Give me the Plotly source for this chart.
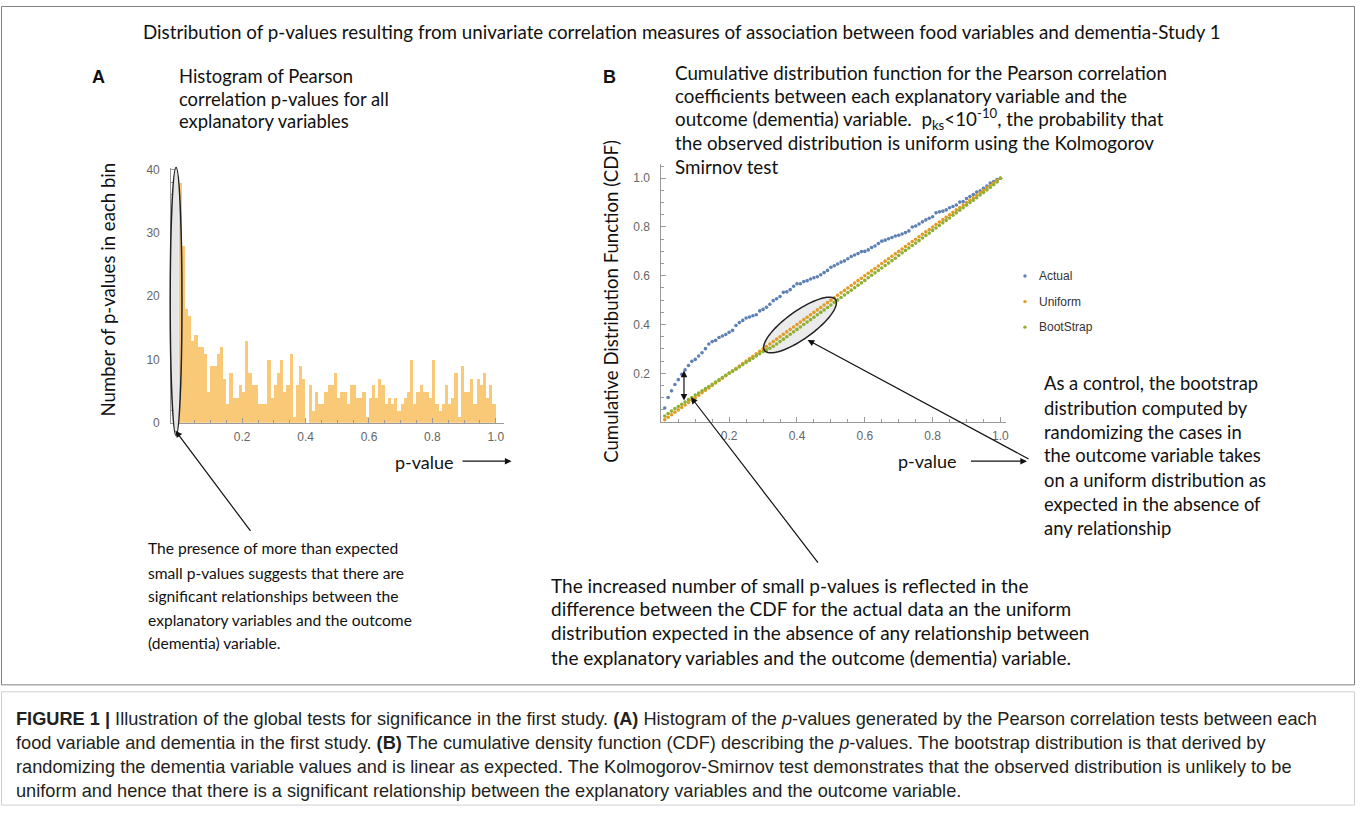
import math
import plotly.graph_objects as go

W, H = 1360, 816

# ---------------- data ----------------
p_grid = [
    0.01, 0.02, 0.03, 0.04, 0.05, 0.06, 0.07, 0.08, 0.09, 0.10,
    0.11, 0.12, 0.13, 0.14, 0.15, 0.16, 0.17, 0.18, 0.19, 0.20,
    0.21, 0.22, 0.23, 0.24, 0.25, 0.26, 0.27, 0.28, 0.29, 0.30,
    0.31, 0.32, 0.33, 0.34, 0.35, 0.36, 0.37, 0.38, 0.39, 0.40,
    0.41, 0.42, 0.43, 0.44, 0.45, 0.46, 0.47, 0.48, 0.49, 0.50,
    0.51, 0.52, 0.53, 0.54, 0.55, 0.56, 0.57, 0.58, 0.59, 0.60,
    0.61, 0.62, 0.63, 0.64, 0.65, 0.66, 0.67, 0.68, 0.69, 0.70,
    0.71, 0.72, 0.73, 0.74, 0.75, 0.76, 0.77, 0.78, 0.79, 0.80,
    0.81, 0.82, 0.83, 0.84, 0.85, 0.86, 0.87, 0.88, 0.89, 0.90,
    0.91, 0.92, 0.93, 0.94, 0.95, 0.96, 0.97, 0.98, 0.99, 1.00,
]

hist_counts = [
    38, 28, 18, 17, 13, 14, 12, 12, 11, 5,
    9, 9, 11, 12, 7, 3, 8, 4, 4, 6,
    5, 13, 8, 6, 6, 3, 3, 3, 10, 4,
    6, 8, 10, 5, 6, 11, 1, 6, 9, 7,
    0, 6, 2, 5, 3, 3, 5, 6, 6, 8,
    4, 5, 5, 3, 6, 6, 4, 4, 5, 1,
    4, 6, 4, 7, 6, 3, 4, 3, 4, 2,
    3, 4, 5, 10, 3, 5, 6, 5, 5, 4,
    10, 3, 2, 3, 6, 3, 4, 8, 1, 9,
    5, 5, 7, 3, 7, 6, 8, 4, 6, 3,
]

actual_cdf = [
    0.058, 0.101, 0.128, 0.154, 0.174, 0.196, 0.214, 0.232, 0.249, 0.257,
    0.271, 0.284, 0.301, 0.320, 0.330, 0.335, 0.347, 0.353, 0.359, 0.368,
    0.376, 0.396, 0.408, 0.417, 0.427, 0.431, 0.436, 0.440, 0.456, 0.462,
    0.471, 0.483, 0.498, 0.506, 0.515, 0.532, 0.534, 0.543, 0.557, 0.567,
    0.567, 0.576, 0.580, 0.587, 0.592, 0.596, 0.604, 0.613, 0.622, 0.635,
    0.641, 0.648, 0.656, 0.661, 0.670, 0.679, 0.685, 0.691, 0.699, 0.700,
    0.706, 0.716, 0.722, 0.732, 0.742, 0.746, 0.752, 0.757, 0.763, 0.766,
    0.771, 0.777, 0.784, 0.800, 0.804, 0.812, 0.821, 0.829, 0.836, 0.842,
    0.858, 0.862, 0.865, 0.870, 0.879, 0.884, 0.890, 0.902, 0.904, 0.917,
    0.925, 0.933, 0.943, 0.948, 0.959, 0.968, 0.980, 0.986, 0.995, 1.000,
]

uniform_cdf = list(p_grid)

bootstrap_cdf = [
    0.025, 0.035, 0.045, 0.055, 0.064, 0.073, 0.082, 0.092, 0.101, 0.111,
    0.119, 0.128, 0.137, 0.146, 0.155, 0.164, 0.173, 0.183, 0.192, 0.201,
    0.208, 0.217, 0.226, 0.235, 0.244, 0.253, 0.262, 0.271, 0.280, 0.289,
    0.296, 0.303, 0.311, 0.320, 0.330, 0.340, 0.350, 0.360, 0.370, 0.380,
    0.390, 0.400, 0.410, 0.420, 0.430, 0.440, 0.450, 0.460, 0.470, 0.480,
    0.491, 0.501, 0.511, 0.521, 0.531, 0.541, 0.551, 0.561, 0.571, 0.581,
    0.592, 0.602, 0.612, 0.622, 0.632, 0.642, 0.652, 0.662, 0.672, 0.683,
    0.694, 0.704, 0.714, 0.724, 0.734, 0.744, 0.755, 0.765, 0.775, 0.786,
    0.796, 0.806, 0.817, 0.827, 0.837, 0.848, 0.858, 0.869, 0.879, 0.889,
    0.900, 0.910, 0.920, 0.931, 0.941, 0.952, 0.962, 0.973, 0.985, 1.000,
]

series_names = ["Actual", "Uniform", "BootStrap"]
series_colors = ["#5E81B5", "#E19C24", "#8FB032"]

hist_ticks = [0, 10, 20, 30, 40]
p_ticks = [0.2, 0.4, 0.6, 0.8, 1.0]
p_tick_text = ["0.2", "0.4", "0.6", "0.8", "1.0"]

BIN_WIDTH = 0.01

# ---------------- geometry helpers ----------------
def px(x):
    return x / W


def py(y):
    return 1 - y / H


HX_DOM = [px(171.7), px(505.2)]
HY_DOM = [py(424.0), py(165.0)]
HX_RANGE = [-0.024, 1.025]
HY_RANGE = [0, 40.3]

CX_DOM = [px(663.3), px(1008.5)]
CY_DOM = [py(423.3), py(161.7)]
CX_RANGE = [0, 1.015]
CY_RANGE = [0, 1.057]

AXIS_COLOR = "#9a9a9a"
TICK_FONT = dict(family="Liberation Sans, Arial, sans-serif", size=12, color="#666666")
BODY = "Lato, Carlito, Calibri, sans-serif"

fig = go.Figure()

# histogram: bar centred in its bin (right edge minus half a bin)
bin_centres = [round(p - BIN_WIDTH / 2, 4) for p in p_grid]
fig.add_trace(go.Bar(
    x=bin_centres, y=hist_counts, width=BIN_WIDTH,
    marker=dict(color="#F9C977", line=dict(width=0)),
    xaxis="x", yaxis="y", showlegend=False, hoverinfo="skip",
))

cdf_series = [actual_cdf, uniform_cdf, bootstrap_cdf]
for name, col, vals in zip(series_names, series_colors, cdf_series):
    fig.add_trace(go.Scatter(
        x=p_grid, y=vals, mode="markers", name=name,
        marker=dict(color=col, size=3.6),
        xaxis="x2", yaxis="y2", showlegend=False,
    ))


def axis_common():
    return dict(
        showgrid=False, zeroline=False, showline=True, linecolor=AXIS_COLOR,
        linewidth=1, ticks="inside", ticklen=5, tickcolor=AXIS_COLOR,
        tickfont=TICK_FONT, fixedrange=True,
    )


fig.update_layout(
    width=W, height=H, margin=dict(l=0, r=0, t=0, b=0),
    paper_bgcolor="white", plot_bgcolor="rgba(0,0,0,0)",
    bargap=0, barmode="overlay",
    xaxis=dict(domain=HX_DOM, range=HX_RANGE, anchor="y", tickmode="array",
               tickvals=p_ticks, ticktext=p_tick_text, ticklabelstandoff=3,
               minor=dict(tickmode="linear", tick0=0, dtick=0.05, ticks="inside",
                          ticklen=3, tickcolor=AXIS_COLOR),
               **axis_common()),
    yaxis=dict(domain=HY_DOM, range=HY_RANGE, anchor="x", tickmode="array",
               tickvals=hist_ticks, ticktext=[str(t) for t in hist_ticks],
               ticklabelstandoff=8,
               minor=dict(tickmode="linear", tick0=0, dtick=2, ticks="inside",
                          ticklen=3, tickcolor=AXIS_COLOR),
               **axis_common()),
    xaxis2=dict(domain=CX_DOM, range=CX_RANGE, anchor="y2", tickmode="array",
                tickvals=p_ticks, ticktext=p_tick_text, ticklabelstandoff=3,
                minor=dict(tickmode="linear", tick0=0, dtick=0.05, ticks="inside",
                           ticklen=3, tickcolor=AXIS_COLOR),
                **axis_common()),
    yaxis2=dict(domain=CY_DOM, range=CY_RANGE, anchor="x2", tickmode="array",
                tickvals=p_ticks, ticktext=p_tick_text, ticklabelstandoff=8,
                minor=dict(tickmode="linear", tick0=0, dtick=0.05, ticks="inside",
                           ticklen=3, tickcolor=AXIS_COLOR),
                **axis_common()),
)

annotations = []


def text(x, y, s, size=17, family=BODY, anchor="left", color="#111111", angle=0):
    annotations.append(dict(
        x=px(x), y=py(y), xref="paper", yref="paper", text=s, showarrow=False,
        xanchor=anchor, yanchor="middle", textangle=angle,
        font=dict(family=family, size=size, color=color),
    ))


def arrow(hx, hy, tx, ty, both=False, width=1.2):
    annotations.append(dict(
        x=px(hx), y=py(hy), xref="paper", yref="paper", text=" ",
        font=dict(size=2),
        showarrow=True, ax=tx - hx, ay=ty - hy, axref="pixel", ayref="pixel",
        arrowhead=2, arrowsize=1.1, arrowwidth=width, arrowcolor="#111111",
        arrowside="end+start" if both else "end", standoff=0, startstandoff=0,
    ))


# title
text(684, 27, "Distribution of p-values resulting from univariate correlation measures of association between food variables and dementia-Study 1",
     size=18.8, anchor="center")

# panel letters
text(90, 73, "<b>A</b>", size=18, family="Liberation Sans, Arial, sans-serif")
text(603, 73, "<b>B</b>", size=18, family="Liberation Sans, Arial, sans-serif")

# panel A heading
for yy, s in zip([72, 95, 118], ["Histogram of Pearson", "correlation p-values for all", "explanatory variables"]):
    text(178, yy, s, size=18.4)

# panel B heading
b_lines = [
    "Cumulative distribution function for the Pearson correlation",
    "coefficients between each explanatory variable and the",
    "outcome (dementia) variable.  p<sub>ks</sub>&lt;10<sup>-10</sup>, the probability that",
    "the observed distribution is uniform using the Kolmogorov",
    "Smirnov test",
]
for yy, s in zip([68, 92, 116, 140, 164], b_lines):
    text(675, yy, s, size=18.8)

# axis titles
text(108, 289, "Number of p-values in each bin", size=18.6, anchor="center", angle=-90)
text(612, 301, "Cumulative Distribution Function (CDF)", size=18.6, anchor="center", angle=-90)
text(426, 464, "p-value", size=18, anchor="center")
text(930, 463, "p-value", size=18, anchor="center")
arrow(513, 463, 462, 463)
arrow(1030, 463, 972, 463)

# legend
for yy, name, col in zip([275, 301, 327], series_names, series_colors):
    text(1040, yy, name, size=12, family="Liberation Sans, Arial, sans-serif", color="#333333")

# explanatory texts
left_lines = [
    "The presence of more than expected",
    "small p-values suggests that there are",
    "significant relationships between the",
    "explanatory variables and the outcome",
    "(dementia) variable.",
]
for yy, s in zip([551, 576, 600, 624, 648], left_lines):
    text(146, yy, s, size=15.6)

center_lines = [
    "The increased number of small p-values is reflected in the",
    "difference between the CDF for the actual data an the uniform",
    "distribution expected in the absence of any relationship between",
    "the explanatory variables and the outcome (dementia) variable.",
]
for yy, s in zip([589, 613, 637, 662], center_lines):
    text(551, yy, s, size=19)

right_lines = [
    "As a control, the bootstrap",
    "distribution computed by",
    "randomizing the cases in",
    "the outcome variable takes",
    "on a uniform distribution as",
    "expected in the absence of",
    "any relationship",
]
for yy, s in zip([384, 409, 433, 457, 482, 506, 531], right_lines):
    text(1045, yy, s, size=18.4)

# arrows
arrow(176, 432, 253, 535)
arrow(686, 371, 686, 404, both=True)
arrow(693, 398, 822, 566)
arrow(810, 340, 1033, 460)

# caption
cap_font = "Liberation Sans, Arial, sans-serif"
cap_lines = [
    "<b>FIGURE 1 |</b> Illustration of the global tests for significance in the first study. <b>(A)</b> Histogram of the <i>p</i>-values generated by the Pearson correlation tests between each",
    "food variable and dementia in the first study. <b>(B)</b> The cumulative density function (CDF) describing the <i>p</i>-values. The bootstrap distribution is that derived by",
    "randomizing the dementia variable values and is linear as expected. The Kolmogorov-Smirnov test demonstrates that the observed distribution is unlikely to be",
    "uniform and hence that there is a significant relationship between the explanatory variables and the outcome variable.",
]
for yy, s in zip([725, 749, 773, 798], cap_lines):
    text(14, yy, s, size=18.2, family=cap_font, color="#231f20")

fig.update_layout(annotations=annotations)

# ---------------- shapes ----------------
shapes = []
# frames
shapes.append(dict(type="rect", xref="paper", yref="paper", x0=px(1.5), x1=px(1358.5),
                   y0=py(690), y1=py(1.5), line=dict(color="#808080", width=1), fillcolor="rgba(0,0,0,0)"))
shapes.append(dict(type="rect", xref="paper", yref="paper", x0=px(1.5), x1=px(1358.5),
                   y0=py(812), y1=py(697), line=dict(color="#d0d0d0", width=1), fillcolor="rgba(0,0,0,0)"))

# histogram ellipse: gray fill only on the part left of the first bar, outline on top
ex_c, ey_c, ex_r, ey_r = 176.6, 301.0, 5.9, 136.0
x_cut = 179.3
phi0 = math.acos((x_cut - ex_c) / ex_r)
half = []
n = 60
for i in range(n + 1):
    phi = phi0 + (2 * math.pi - 2 * phi0) * i / n
    half.append((ex_c + ex_r * math.cos(phi), ey_c - ey_r * math.sin(phi)))
hpath = "M " + " L ".join(f"{px(x):.6f},{py(y):.6f}" for x, y in half) + " Z"
shapes.append(dict(type="path", xref="paper", yref="paper", layer="above", path=hpath,
                   fillcolor="#e6e6e6", line=dict(width=0)))
shapes.append(dict(type="circle", xref="paper", yref="paper", layer="above",
                   x0=px(ex_c - ex_r), x1=px(ex_c + ex_r), y0=py(ey_c + ey_r), y1=py(ey_c - ey_r),
                   fillcolor="rgba(0,0,0,0)", line=dict(color="#222222", width=1.5)))

# CDF ellipse (rotated along the diagonal), built in pixel space then mapped to data
sx = (CX_DOM[1] - CX_DOM[0]) * W / (CX_RANGE[1] - CX_RANGE[0])
sy = (CY_DOM[1] - CY_DOM[0]) * H / (CY_RANGE[1] - CY_RANGE[0])
theta = math.atan2(sy, sx)
cx, cy = 0.409, 0.398
a_px, b_px = 44.0, 14.0
pts = []
for i in range(73):
    t = 2 * math.pi * i / 72
    u, v = a_px * math.cos(t), b_px * math.sin(t)
    dx = u * math.cos(theta) - v * math.sin(theta)
    dy = u * math.sin(theta) + v * math.cos(theta)
    pts.append((cx + dx / sx, cy + dy / sy))
path = "M " + " L ".join(f"{x:.5f},{y:.5f}" for x, y in pts) + " Z"
shapes.append(dict(type="path", xref="x2", yref="y2", path=path, layer="below",
                   fillcolor="#ebebeb", line=dict(width=0)))
shapes.append(dict(type="path", xref="x2", yref="y2", path=path, layer="above",
                   fillcolor="rgba(0,0,0,0)", line=dict(color="#222222", width=1.5)))

# legend dots
for yy, col in zip([275, 301, 327], series_colors):
    shapes.append(dict(type="circle", xref="paper", yref="paper",
                       x0=px(1026.3), x1=px(1029.7), y0=py(yy + 1.7), y1=py(yy - 1.7),
                       fillcolor=col, line=dict(width=0)))

fig.update_layout(shapes=shapes)

fig.write_html("out.html")
